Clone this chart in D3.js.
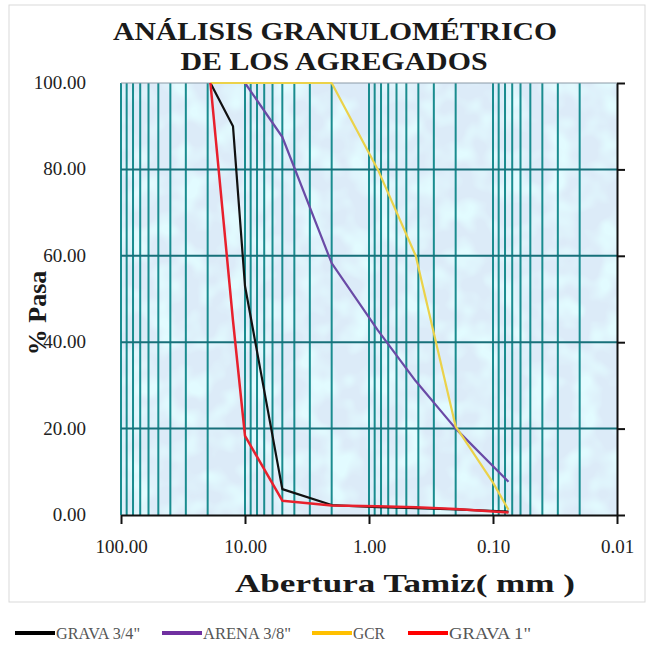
<!DOCTYPE html>
<html lang="es">
<head>
<meta charset="UTF-8">
<title>Análisis granulométrico</title>
<script src="https://d3js.org/d3.v7.min.js"></script>
<style>
  body { margin: 0; background: #fff; }
  svg { display: block; }
  text { font-family: "Liberation Serif", "Times New Roman", serif; }
</style>
</head>
<body>
<svg width="651" height="651"></svg>
<script>
// sieve openings (mm) and % passing
const aberturas = [19, 12.5, 10, 5, 2, 0.85, 0.42, 0.2, 0.1, 0.075];
const grava34 = [100, 90, 53, 6, 2.3, 1.8, 1.6, 1.3, null, 0.8];
const arena38 = [null, null, 100, 87.5, 58.3, 42.8, 31, 20, null, 7.7];
const gcr = [100, 100, 100, 100, 100, 80, 60, 20.5, 7.5, 1.2];
const grava1 = [100, 45, 18.3, 3.3, 2.2, 2.0, 1.8, 1.4, null, 0.6];

const xTicks = [100, 10, 1, 0.1, 0.01];
const yTicks = [0, 20, 40, 60, 80, 100];

const seriesNames = ["GRAVA 3/4\"", "ARENA 3/8\"", "GCR", "GRAVA 1\""];
const seriesColors = ["#111111", "#6a4aa6", "#ebd24a", "#e8202c"];

const series = [grava34, arena38, gcr, grava1].map((vals, i) => ({
  name: seriesNames[i],
  color: seriesColors[i],
  pts: aberturas.map((a, j) => ({ a: a, p: vals[j] })).filter(d => d.p != null)
}));

const svg = d3.select("svg");

const x = d3.scaleLog().domain([100, 0.01]).range([121, 617]);
const y = d3.scaleLinear().domain([0, 100]).range([515, 83]);

// outer chart border
svg.append("rect")
  .attr("x", 9).attr("y", 5).attr("width", 636).attr("height", 597)
  .attr("fill", "none").attr("stroke", "#d9d9d9");

// plot background with a mottled texture
const defs = svg.append("defs");
const filt = defs.append("filter").attr("id", "mottle")
  .attr("x", 0).attr("y", 0).attr("width", 1).attr("height", 1);
filt.append("feTurbulence").attr("type", "fractalNoise")
  .attr("baseFrequency", "0.04").attr("numOctaves", 2).attr("seed", 4);
filt.append("feColorMatrix").attr("type", "matrix")
  .attr("values", "0 0 0 0 0.76  0 0 0 0 0.97  0 0 0 0 1  0 0 0 3 -1.25");
filt.append("feComposite").attr("in2", "SourceGraphic").attr("operator", "in");

svg.append("rect")
  .attr("x", x(100)).attr("y", y(100))
  .attr("width", x(0.01) - x(100)).attr("height", y(0) - y(100))
  .attr("fill", "#dcebf8");
svg.append("rect")
  .attr("x", x(100)).attr("y", y(100))
  .attr("width", x(0.01) - x(100)).attr("height", y(0) - y(100))
  .attr("fill", "#fff")
  .attr("filter", "url(#mottle)");

// vertical grid (log minor)
svg.append("g")
  .selectAll("line")
  .data(x.ticks().filter(v => v < 100 && v > 0.01))
  .join("line")
  .attr("x1", d => x(d)).attr("x2", d => x(d))
  .attr("y1", y(100)).attr("y2", y(0))
  .attr("stroke", "#1a8c8f").attr("stroke-width", 2);

svg.append("line")
  .attr("x1", x(100)).attr("x2", x(100))
  .attr("y1", y(100)).attr("y2", y(0))
  .attr("stroke", "#1a8c8f").attr("stroke-width", 2);

// horizontal grid
svg.append("g")
  .selectAll("line")
  .data(yTicks.filter(v => v > 0 && v < 100))
  .join("line")
  .attr("x1", x(100)).attr("x2", x(0.01))
  .attr("y1", d => y(d)).attr("y2", d => y(d))
  .attr("stroke", "#17707a").attr("stroke-width", 2);

svg.append("line")
  .attr("x1", x(100)).attr("x2", x(0.01))
  .attr("y1", y(100)).attr("y2", y(100))
  .attr("stroke", "#8a9aa6").attr("stroke-width", 1);

// axes
const xAxis = svg.append("g")
  .attr("transform", `translate(0,${y(0)})`)
  .call(d3.axisBottom(x).tickValues(xTicks).tickFormat(d3.format(".2f"))
    .tickSizeInner(9).tickSizeOuter(0).tickPadding(16));
xAxis.select(".domain").attr("stroke", "#111").attr("stroke-width", 2);
xAxis.selectAll(".tick line").attr("stroke", "#111").attr("stroke-width", 2);
xAxis.selectAll(".tick text")
  .attr("font-family", "Liberation Serif").attr("font-size", 19).attr("fill", "#222");

const yAxis = svg.append("g")
  .attr("transform", `translate(${x(0.01)},0)`)
  .call(d3.axisRight(y).tickValues(yTicks).tickSizeInner(8).tickSizeOuter(0).tickFormat(""));
yAxis.select(".domain").attr("stroke", "#111").attr("stroke-width", 2);
yAxis.selectAll(".tick line").attr("stroke", "#111").attr("stroke-width", 2);

svg.append("g")
  .selectAll("text")
  .data(yTicks)
  .join("text")
  .attr("x", 86).attr("y", d => y(d) + 6)
  .attr("text-anchor", "end")
  .attr("font-size", 19).attr("fill", "#222")
  .text(d3.format(".2f"));

// series lines
const line = d3.line().x(d => x(d.a)).y(d => y(d.p));
svg.append("g")
  .selectAll("path")
  .data(series)
  .join("path")
  .attr("d", d => line(d.pts))
  .attr("fill", "none")
  .attr("stroke", d => d.color)
  .attr("stroke-width", (d, i) => i === 3 ? 2.5 : 2.2)
  .attr("stroke-linejoin", "round");

// titles
svg.append("text")
  .attr("x", 335).attr("y", 40).attr("text-anchor", "middle")
  .attr("font-size", 26).attr("font-weight", "bold").attr("fill", "#1a1a1a")
  .attr("textLength", 444).attr("lengthAdjust", "spacingAndGlyphs")
  .text("ANÁLISIS GRANULOMÉTRICO");
svg.append("text")
  .attr("x", 334).attr("y", 70).attr("text-anchor", "middle")
  .attr("font-size", 26).attr("font-weight", "bold").attr("fill", "#1a1a1a")
  .attr("textLength", 307).attr("lengthAdjust", "spacingAndGlyphs")
  .text("DE LOS AGREGADOS");

svg.append("text")
  .attr("transform", "translate(46,313) rotate(-90)")
  .attr("text-anchor", "middle")
  .attr("font-size", 26).attr("font-weight", "bold").attr("fill", "#1a1a1a")
  .text("% Pasa");

svg.append("text")
  .attr("x", 405).attr("y", 592).attr("text-anchor", "middle")
  .attr("font-size", 26).attr("font-weight", "bold").attr("fill", "#1a1a1a")
  .attr("textLength", 340).attr("lengthAdjust", "spacingAndGlyphs")
  .text("Abertura Tamiz( mm )");

// legend
const legX = [15, 162, 312, 408];
const leg = svg.append("g")
  .selectAll("g")
  .data(series)
  .join("g")
  .attr("transform", (d, i) => `translate(${legX[i]},633)`);
leg.append("line")
  .attr("x1", 0).attr("x2", 40).attr("y1", 0).attr("y2", 0)
  .attr("stroke", (d, i) => ["#000", "#7030a0", "#ffc000", "#ff0000"][i])
  .attr("stroke-width", 4);
leg.append("text")
  .attr("x", 41).attr("y", 6)
  .attr("font-size", 16).attr("fill", "#555")
  .attr("textLength", (d, i) => [84, 88, 32, 82][i]).attr("lengthAdjust", "spacingAndGlyphs")
  .text(d => d.name);
</script>
</body>
</html>
